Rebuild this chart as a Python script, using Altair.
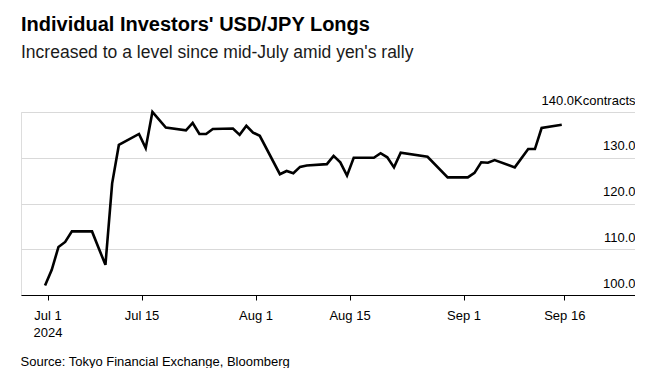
import altair as alt
import pandas as pd

# Trading dates (Tokyo) and individual investors' USD/JPY long positions, thousand contracts
dates = [
    "2024-07-01", "2024-07-02", "2024-07-03", "2024-07-04", "2024-07-05",
    "2024-07-08", "2024-07-09", "2024-07-10", "2024-07-11", "2024-07-12",
    "2024-07-15", "2024-07-16", "2024-07-17", "2024-07-19",
    "2024-07-22", "2024-07-23", "2024-07-24", "2024-07-25", "2024-07-26",
    "2024-07-29", "2024-07-30", "2024-07-31", "2024-08-01", "2024-08-02",
    "2024-08-05", "2024-08-06", "2024-08-07", "2024-08-08", "2024-08-09",
    "2024-08-12", "2024-08-13", "2024-08-14", "2024-08-15", "2024-08-16",
    "2024-08-19", "2024-08-20", "2024-08-21", "2024-08-22", "2024-08-23",
    "2024-08-27", "2024-08-30",
    "2024-09-02", "2024-09-03", "2024-09-04", "2024-09-05", "2024-09-06",
    "2024-09-09", "2024-09-11", "2024-09-12", "2024-09-13", "2024-09-16",
]
values = [
    102.1, 105.5, 110.5, 111.6, 113.9,
    113.9, 110.2, 106.6, 124.4, 132.8,
    135.2, 132.1, 140.0, 136.6,
    136.0, 137.6, 135.2, 135.2, 136.3,
    136.4, 135.0, 137.0, 135.5, 134.8,
    126.4, 127.1, 126.6, 128.0, 128.3,
    128.6, 130.4, 129.0, 126.1, 130.0,
    130.0, 131.0, 130.1, 127.9, 131.1,
    130.2, 125.7,
    125.7, 126.7, 129.0, 128.9, 129.5,
    127.9, 131.9, 131.9, 136.5, 137.2,
]
y_ticks = [100, 110, 120, 130, 140]
x_ticks = [(7, 1), (7, 15), (8, 1), (8, 15), (9, 1), (9, 16)]

df = pd.DataFrame({
    "date": [d + "T00:00:00+09:00" for d in dates],
    "value": values,
})

FONT = "Liberation Sans"

x_axis = alt.Axis(
    values=[alt.DateTime(year=2024, month=m, date=d, utc=True) for m, d in x_ticks],
    labelExpr="utcmonth(datum.value) == 6 && utcdate(datum.value) == 1 ? ['Jul 1', '2024'] : utcFormat(datum.value, '%b %-d')",
    grid=False,
    domainColor="black",
    domainWidth=1,
    tickColor="black",
    tickSize=5,
    labelFont=FONT,
    labelFontSize=13,
    labelColor="black",
    labelPadding=9,
    labelLineHeight=17.5,
    labelFlush=False,
    labelOverlap=False,
    title="Source: Tokyo Financial Exchange, Bloomberg",
    titleFont=FONT,
    titleFontSize=13,
    titleFontWeight="normal",
    titleColor="black",
    titleAnchor="start",
    titleAlign="left",
    titleBaseline="alphabetic",
    titleX=-1,
    titleY=70,
)

y_axis = alt.Axis(
    orient="right",
    values=y_ticks,
    labelExpr="datum.value == 140 ? '140.0Kcontracts' : format(datum.value, '.1f')",
    grid=True,
    gridColor="#d9d9d9",
    gridWidth=1,
    domain=False,
    ticks=False,
    tickSize=0,
    labelAlign="right",
    labelBaseline="alphabetic",
    labelPadding=0,
    labelOffset=-8,
    labelFont=FONT,
    labelFontSize=13,
    labelColor="black",
    labelFlush=False,
    labelOverlap=False,
    title=None,
)

chart = alt.Chart(df).mark_line(color="black", strokeWidth=2.6).encode(
    x=alt.X(
        "date:T",
        scale=alt.Scale(
            type="utc",
            domain=[
                alt.DateTime(year=2024, month=6, date=27, hours=1, utc=True),
                alt.DateTime(year=2024, month=9, date=26, hours=13, utc=True),
            ],
        ),
        axis=x_axis,
    ),
    y=alt.Y("value:Q", scale=alt.Scale(domain=[100, 140], nice=False, zero=False), axis=y_axis),
).properties(
    width=614,
    height=183,
    padding={"left": 12, "top": 6, "right": 0, "bottom": 0},
    title=alt.TitleParams(
        text="Individual Investors' USD/JPY Longs",
        subtitle="Increased to a level since mid-July amid yen's rally",
        anchor="start",
        frame="group",
        font=FONT,
        fontSize=20,
        fontWeight="bold",
        color="black",
        subtitleFont=FONT,
        subtitleFontSize=17.5,
        subtitleColor="#1a1a1a",
        subtitlePadding=9,
        offset=33,
    ),
).configure_view(stroke=None).configure(background="white")

chart.save("out.html", embed_options={"renderer": "svg", "actions": False})
